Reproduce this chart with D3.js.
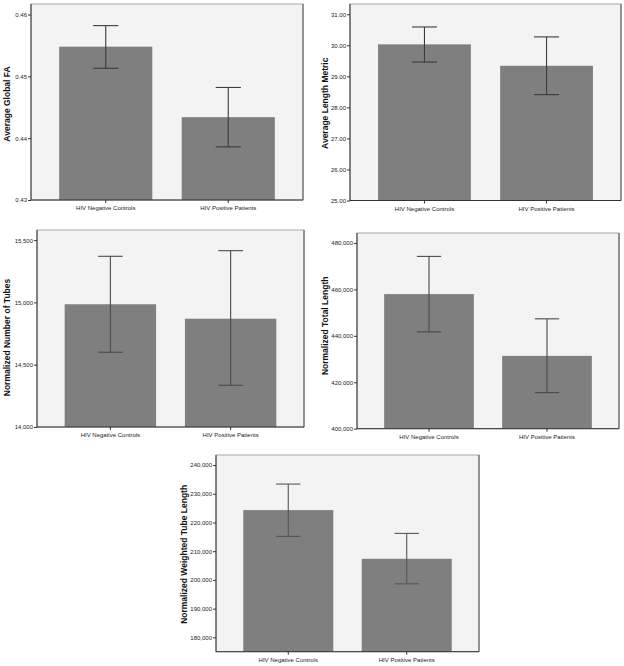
<!DOCTYPE html>
<html>
<head>
<meta charset="utf-8">
<script src="https://cdn.jsdelivr.net/npm/d3@7"></script>
<style>
  body { margin: 0; background: #fff; }
  svg { display: block; font-family: Arial, "Liberation Sans", sans-serif; }
</style>
</head>
<body>
<svg id="chart" width="624" height="666"></svg>
<script>
// groups shared by every panel
const categories = ['HIV Negative Controls', 'HIV Positive Patients'];

// panel 1 - Average Global FA
const faMean  = [0.4548, 0.4434];
const faUpper = [0.4582, 0.4482];
const faLower = [0.4513, 0.4386];
const faTicks = [0.43, 0.44, 0.45, 0.46];

// panel 2 - Average Length Metric
const lenMean  = [30.03, 29.34];
const lenUpper = [30.59, 30.27];
const lenLower = [29.46, 28.41];
const lenTicks = [25, 26, 27, 28, 29, 30, 31];

// panel 3 - Normalized Number of Tubes
const tubeMean  = [14985, 14869];
const tubeUpper = [15370, 15415];
const tubeLower = [14600, 14335];
const tubeTicks = [14000, 14500, 15000, 15500];

// panel 4 - Normalized Total Length
const totMean  = [457990, 431370];
const totUpper = [474220, 447330];
const totLower = [441730, 415530];
const totTicks = [400000, 420000, 440000, 460000, 480000];

// panel 5 - Normalized Weighted Tube Length
const wtMean  = [224320, 207350];
const wtUpper = [233380, 216200];
const wtLower = [215160, 198640];
const wtTicks = [180000, 190000, 200000, 210000, 220000, 230000, 240000];

// layout of each panel (frame box in px + y domain)
const panels = [
    { label: 'Average Global FA', mean: faMean, up: faUpper, lo: faLower, ticks: faTicks,
      fmt: d3.format('.2f'), domain: [0.43, 0.4617], x0: 31, x1: 303, y0: 4, y1: 200,
      labelX: 7, labelDy: 2, ebColor: '#3a3a3a' },
    { label: 'Average Length Metric', mean: lenMean, up: lenUpper, lo: lenLower, ticks: lenTicks,
      fmt: d3.format('.2f'), domain: [25, 31.33], x0: 350, x1: 621, y0: 4, y1: 200.5,
      labelX: 325, labelDy: 1, ebColor: '#3a3a3a' },
    { label: 'Normalized Number of Tubes', mean: tubeMean, up: tubeUpper, lo: tubeLower, ticks: tubeTicks,
      fmt: d3.format(','), domain: [14000, 15581], x0: 37, x1: 304, y0: 230, y1: 427,
      labelX: 7, labelDy: 9, ebColor: '#4a4a4a' },
    { label: 'Normalized Total Length', mean: totMean, up: totUpper, lo: totLower, ticks: totTicks,
      fmt: d3.format(','), domain: [400000, 484300], x0: 357, x1: 619, y0: 233, y1: 428.7,
      labelX: 325, labelDy: -5, ebColor: '#4a4a4a' },
    { label: 'Normalized Weighted Tube Length', mean: wtMean, up: wtUpper, lo: wtLower, ticks: wtTicks,
      fmt: d3.format(','), domain: [175000, 243500], x0: 216, x1: 479, y0: 455, y1: 651.7,
      labelX: 184, labelDy: 1, ebColor: '#555' }
];

const svg = d3.select('#chart');

panels.forEach(p => {
    const g = svg.append('g');

    const x = d3.scaleBand()
        .domain(categories)
        .range([p.x0, p.x1])
        .paddingInner(0.24)
        .paddingOuter(0.23);

    const y = d3.scaleLinear()
        .domain(p.domain)
        .range([p.y1, p.y0]);

    // plot background + light frame
    g.append('rect')
        .attr('x', p.x0).attr('y', p.y0)
        .attr('width', p.x1 - p.x0).attr('height', p.y1 - p.y0)
        .attr('fill', '#f3f3f3')
        .attr('stroke', '#a8a8a8')
        .attr('stroke-width', 1);
    // darker right edge
    g.append('line')
        .attr('x1', p.x1).attr('x2', p.x1)
        .attr('y1', p.y0).attr('y2', p.y1)
        .attr('stroke', '#555');

    // bars
    g.selectAll('.bar')
        .data(categories)
        .join('rect')
        .attr('x', d => x(d))
        .attr('y', (d, i) => y(p.mean[i]))
        .attr('width', x.bandwidth())
        .attr('height', (d, i) => p.y1 - y(p.mean[i]))
        .attr('fill', '#7f7f7f');

    // error bars
    const cap = x.bandwidth() * 0.27;
    categories.forEach((c, i) => {
        const cx = x(c) + x.bandwidth() / 2;
        const eb = g.append('g').attr('stroke', p.ebColor).attr('stroke-width', 1.1);
        eb.append('line').attr('x1', cx).attr('x2', cx)
            .attr('y1', y(p.up[i])).attr('y2', y(p.lo[i]));
        eb.append('line').attr('x1', cx - cap / 2).attr('x2', cx + cap / 2)
            .attr('y1', y(p.up[i])).attr('y2', y(p.up[i]));
        eb.append('line').attr('x1', cx - cap / 2).attr('x2', cx + cap / 2)
            .attr('y1', y(p.lo[i])).attr('y2', y(p.lo[i]));
    });

    // y axis
    const ya = g.append('g')
        .attr('transform', `translate(${p.x0},0)`)
        .call(d3.axisLeft(y).tickValues(p.ticks).tickFormat(p.fmt).tickSize(3).tickPadding(1));
    ya.select('.domain').attr('stroke', '#333').attr('d', `M0,${p.y0}V${p.y1}`);
    ya.selectAll('.tick line').attr('stroke', '#333');
    ya.selectAll('.tick text').attr('font-size', 6).attr('fill', '#222');

    // x axis
    const xa = g.append('g')
        .attr('transform', `translate(0,${p.y1})`)
        .call(d3.axisBottom(x).tickSize(3).tickPadding(3));
    xa.select('.domain').attr('stroke', '#333').attr('d', `M${p.x0},0H${p.x1}`);
    xa.selectAll('.tick line').attr('stroke', '#333');
    xa.selectAll('.tick text').attr('font-size', 6).attr('fill', '#222');

    // y label
    g.append('text')
        .attr('transform', `translate(${p.labelX},${(p.y0 + p.y1) / 2 + p.labelDy}) rotate(-90)`)
        .attr('text-anchor', 'middle')
        .attr('dominant-baseline', 'central')
        .attr('font-size', 8.5)
        .attr('font-weight', 'bold')
        .attr('fill', '#111')
        .text(p.label);
});
</script>
</body>
</html>
